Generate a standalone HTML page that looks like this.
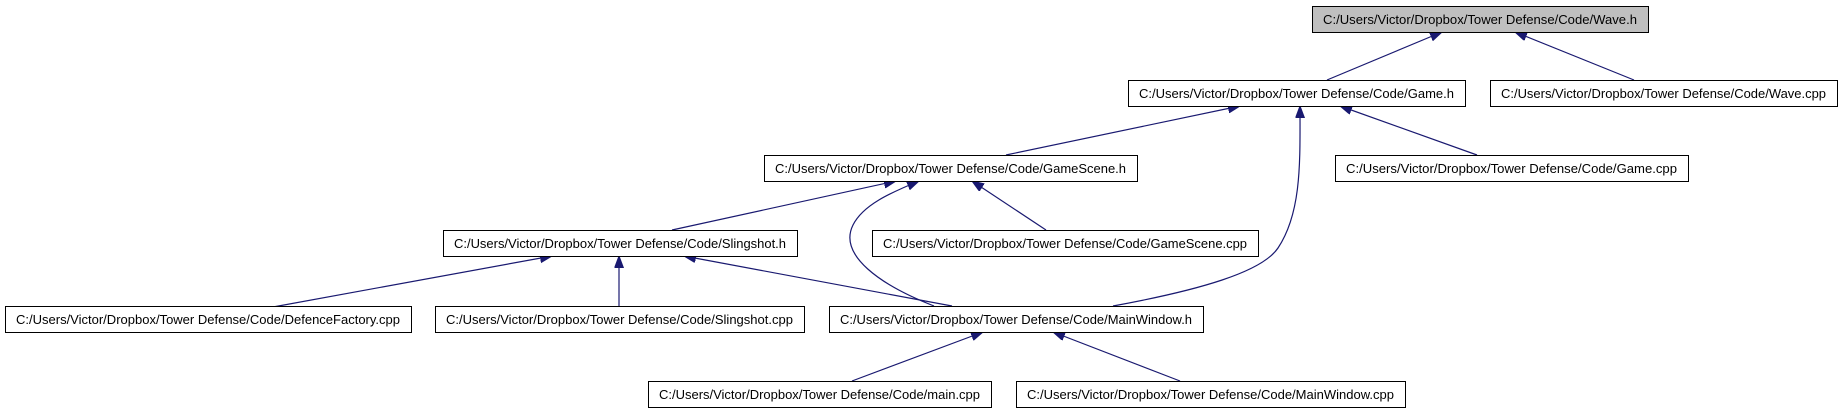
<!DOCTYPE html>
<html><head><meta charset="utf-8"><style>
html,body{margin:0;padding:0;background:#fff;width:1840px;height:411px;overflow:hidden}
svg text{font-family:"Liberation Sans",Arial,sans-serif;font-size:13px;fill:#000}
</style></head><body>
<svg width="1840" height="411" viewBox="0 0 1840 411" xmlns="http://www.w3.org/2000/svg">
<defs><marker id="a" markerWidth="13" markerHeight="10" refX="12" refY="4.5" orient="auto" markerUnits="userSpaceOnUse"><path d="M0,0 L12,4.5 L0,9 z" fill="#191970" stroke="#191970"/></marker></defs>
<g fill="none" stroke="#191970" stroke-width="1.2" marker-end="url(#a)">
<path d="M1327,80 L1442,32"/>
<path d="M1634,80 L1515,32"/>
<path d="M1006,155 L1240,106"/>
<path d="M1477,155 L1340,106"/>
<path d="M1113,306 C1200,290 1262,272 1278,248 C1302,212 1300,160 1300,106"/>
<path d="M672,230 L896,181"/>
<path d="M1046,230 L972,181"/>
<path d="M934,306 C880,285 838,255 853,225 C863,205 890,193 919,181"/>
<path d="M273,307 L552,256"/>
<path d="M619,306 L619,256"/>
<path d="M952,306 L684,256"/>
<path d="M852,381 L983,332"/>
<path d="M1180,381 L1053,332"/>
</g>
<g stroke="#000" stroke-width="1">
<rect x="1312.5" y="6.5" width="336" height="26" fill="#bfbfbf"/>
<rect x="1128.5" y="80.5" width="337" height="26" fill="#fff"/>
<rect x="1490.5" y="80.5" width="347" height="26" fill="#fff"/>
<rect x="764.5" y="155.5" width="373" height="26" fill="#fff"/>
<rect x="1335.5" y="155.5" width="353" height="26" fill="#fff"/>
<rect x="443.5" y="230.5" width="354" height="26" fill="#fff"/>
<rect x="872.5" y="230.5" width="386" height="26" fill="#fff"/>
<rect x="5.5" y="306.5" width="406" height="26" fill="#fff"/>
<rect x="435.5" y="306.5" width="369" height="26" fill="#fff"/>
<rect x="829.5" y="306.5" width="374" height="26" fill="#fff"/>
<rect x="648.5" y="381.5" width="343" height="26" fill="#fff"/>
<rect x="1016.5" y="381.5" width="389" height="26" fill="#fff"/>
</g>
<g>
<text x="1323" y="24" textLength="314" lengthAdjust="spacingAndGlyphs">C:/Users/Victor/Dropbox/Tower Defense/Code/Wave.h</text>
<text x="1139" y="98" textLength="315" lengthAdjust="spacingAndGlyphs">C:/Users/Victor/Dropbox/Tower Defense/Code/Game.h</text>
<text x="1501" y="98" textLength="325" lengthAdjust="spacingAndGlyphs">C:/Users/Victor/Dropbox/Tower Defense/Code/Wave.cpp</text>
<text x="775" y="173" textLength="351" lengthAdjust="spacingAndGlyphs">C:/Users/Victor/Dropbox/Tower Defense/Code/GameScene.h</text>
<text x="1346" y="173" textLength="331" lengthAdjust="spacingAndGlyphs">C:/Users/Victor/Dropbox/Tower Defense/Code/Game.cpp</text>
<text x="454" y="248" textLength="332" lengthAdjust="spacingAndGlyphs">C:/Users/Victor/Dropbox/Tower Defense/Code/Slingshot.h</text>
<text x="883" y="248" textLength="364" lengthAdjust="spacingAndGlyphs">C:/Users/Victor/Dropbox/Tower Defense/Code/GameScene.cpp</text>
<text x="16" y="324" textLength="384" lengthAdjust="spacingAndGlyphs">C:/Users/Victor/Dropbox/Tower Defense/Code/DefenceFactory.cpp</text>
<text x="446" y="324" textLength="347" lengthAdjust="spacingAndGlyphs">C:/Users/Victor/Dropbox/Tower Defense/Code/Slingshot.cpp</text>
<text x="840" y="324" textLength="352" lengthAdjust="spacingAndGlyphs">C:/Users/Victor/Dropbox/Tower Defense/Code/MainWindow.h</text>
<text x="659" y="399" textLength="321" lengthAdjust="spacingAndGlyphs">C:/Users/Victor/Dropbox/Tower Defense/Code/main.cpp</text>
<text x="1027" y="399" textLength="367" lengthAdjust="spacingAndGlyphs">C:/Users/Victor/Dropbox/Tower Defense/Code/MainWindow.cpp</text>
</g>
</svg>
</body></html>
